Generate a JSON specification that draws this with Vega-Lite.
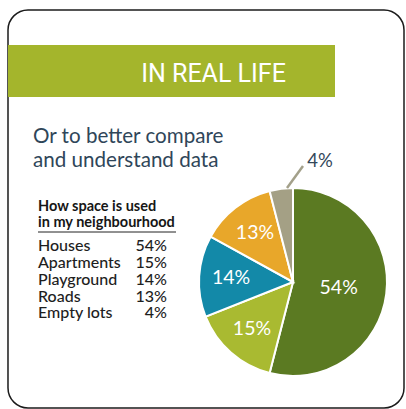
{
  "$schema": "https://vega.github.io/schema/vega-lite/v6.json",
  "width": 396,
  "height": 398,
  "autosize": {"type": "none"},
  "padding": {"left": 8, "top": 10, "right": 2, "bottom": 1},
  "background": "white",
  "config": {"view": {"stroke": "#1b1b1b", "strokeWidth": 1.5, "cornerRadius": 20, "fill": "white"}},
  "data": {"values": [
    {"name": "Houses", "value": 54, "label": "54%", "order": 1},
    {"name": "Apartments", "value": 15, "label": "15%", "order": 2},
    {"name": "Playground", "value": 14, "label": "14%", "order": 3},
    {"name": "Roads", "value": 13, "label": "13%", "order": 4},
    {"name": "Empty lots", "value": 4, "label": "4%", "order": 5}
  ]},
  "layer": [
    {
      "layer": [
        {
          "data": {"values": [{}]},
          "mark": {"type": "rect", "color": "#a4b52c"},
          "encoding": {
            "x": {"datum": 8, "type": "quantitative", "scale": {"domain": [8, 404], "nice": false, "zero": false}, "axis": null},
            "x2": {"datum": 335},
            "y": {"datum": 45, "type": "quantitative", "scale": {"domain": [10, 408], "nice": false, "zero": false, "reverse": true}, "axis": null},
            "y2": {"datum": 97}
          }
        },
        {
          "data": {"values": [{}]},
          "mark": {"type": "text", "text": "IN REAL LIFE", "font": "Roboto", "fontSize": 25, "fill": "white", "align": "center", "baseline": "alphabetic"},
          "encoding": {
            "x": {"datum": 213.5, "type": "quantitative", "scale": {"domain": [8, 404], "nice": false, "zero": false}, "axis": null},
            "y": {"datum": 82, "type": "quantitative", "scale": {"domain": [10, 408], "nice": false, "zero": false, "reverse": true}, "axis": null}
          }
        },
        {
          "data": {"values": [{}]},
          "mark": {"type": "text", "text": ["Or to better compare", "and understand data"], "font": "Lato", "fontSize": 20.6, "fill": "#2f4659", "align": "left", "baseline": "alphabetic", "lineHeight": 24},
          "encoding": {
            "x": {"datum": 33, "type": "quantitative", "scale": {"domain": [8, 404], "nice": false, "zero": false}, "axis": null},
            "y": {"datum": 143, "type": "quantitative", "scale": {"domain": [10, 408], "nice": false, "zero": false, "reverse": true}, "axis": null}
          }
        },
        {
          "data": {"values": [{}]},
          "mark": {"type": "text", "text": ["How space is used", "in my neighbourhood"], "font": "Lato", "fontSize": 14.5, "fontWeight": "bold", "fill": "#161616", "align": "left", "baseline": "alphabetic", "lineHeight": 16.5},
          "encoding": {
            "x": {"datum": 38, "type": "quantitative", "scale": {"domain": [8, 404], "nice": false, "zero": false}, "axis": null},
            "y": {"datum": 210.5, "type": "quantitative", "scale": {"domain": [10, 408], "nice": false, "zero": false, "reverse": true}, "axis": null}
          }
        },
        {
          "data": {"values": [{}]},
          "mark": {"type": "rule", "color": "#222222", "strokeWidth": 1},
          "encoding": {
            "x": {"datum": 38, "type": "quantitative", "scale": {"domain": [8, 404], "nice": false, "zero": false}, "axis": null},
            "x2": {"datum": 176},
            "y": {"datum": 232, "type": "quantitative", "scale": {"domain": [10, 408], "nice": false, "zero": false, "reverse": true}, "axis": null}
          }
        },
        {
          "mark": {"type": "arc", "outerRadius": 94, "stroke": "white", "strokeWidth": 2},
          "encoding": {
            "x": {"datum": 293, "type": "quantitative", "scale": {"domain": [8, 404], "nice": false, "zero": false}, "axis": null},
            "y": {"datum": 282, "type": "quantitative", "scale": {"domain": [10, 408], "nice": false, "zero": false, "reverse": true}, "axis": null},
            "theta": {"field": "value", "type": "quantitative", "stack": true},
            "order": {"field": "order", "type": "quantitative"},
            "color": {"field": "name", "type": "nominal", "legend": null,
              "scale": {"domain": ["Houses", "Apartments", "Playground", "Roads", "Empty lots"],
                        "range": ["#5b7a22", "#a9ba31", "#1389a8", "#e8a72a", "#a4a085"]}}
          }
        },
        {
          "mark": {"type": "text", "radius": 46, "font": "Lato", "fontSize": 19.5, "fill": "white", "align": "center", "baseline": "middle"},
          "encoding": {
            "x": {"datum": 293, "type": "quantitative", "scale": {"domain": [8, 404], "nice": false, "zero": false}, "axis": null},
            "y": {"datum": 282, "type": "quantitative", "scale": {"domain": [10, 408], "nice": false, "zero": false, "reverse": true}, "axis": null},
            "theta": {"field": "value", "type": "quantitative", "stack": true},
            "order": {"field": "order", "type": "quantitative"},
            "text": {"condition": {"test": "datum.name === 'Houses'", "field": "label"}, "value": ""}
          }
        },
        {
          "mark": {"type": "text", "radius": 62, "font": "Lato", "fontSize": 19.5, "fill": "white", "align": "center", "baseline": "middle"},
          "encoding": {
            "x": {"datum": 293, "type": "quantitative", "scale": {"domain": [8, 404], "nice": false, "zero": false}, "axis": null},
            "y": {"datum": 282, "type": "quantitative", "scale": {"domain": [10, 408], "nice": false, "zero": false, "reverse": true}, "axis": null},
            "theta": {"field": "value", "type": "quantitative", "stack": true},
            "order": {"field": "order", "type": "quantitative"},
            "text": {"condition": {"test": "datum.name !== 'Houses' && datum.name !== 'Empty lots'", "field": "label"}, "value": ""}
          }
        },
        {
          "transform": [{"filter": "datum.name === 'Empty lots'"}],
          "mark": {"type": "rule", "color": "#a3a08a", "strokeWidth": 2.5},
          "encoding": {
            "x": {"datum": 287, "type": "quantitative", "scale": {"domain": [8, 404], "nice": false, "zero": false}, "axis": null},
            "x2": {"datum": 303},
            "y": {"datum": 188, "type": "quantitative", "scale": {"domain": [10, 408], "nice": false, "zero": false, "reverse": true}, "axis": null},
            "y2": {"datum": 166}
          }
        },
        {
          "transform": [{"filter": "datum.name === 'Empty lots'"}],
          "mark": {"type": "text", "font": "Lato", "fontSize": 18.5, "fill": "#34475a", "align": "center", "baseline": "alphabetic"},
          "encoding": {
            "x": {"datum": 320, "type": "quantitative", "scale": {"domain": [8, 404], "nice": false, "zero": false}, "axis": null},
            "y": {"datum": 167, "type": "quantitative", "scale": {"domain": [10, 408], "nice": false, "zero": false, "reverse": true}, "axis": null},
            "text": {"field": "label"}
          }
        }
      ]
    },
    {
      "encoding": {
        "y": {"field": "order", "type": "quantitative",
              "scale": {"domain": [-13.3, 10.32], "nice": false, "zero": false, "reverse": true}, "axis": null}
      },
      "layer": [
        {
          "mark": {"type": "text", "font": "Lato", "fontSize": 16, "fontWeight": 500, "fill": "#1e1e1e", "align": "left", "baseline": "alphabetic"},
          "encoding": {
            "x": {"datum": 38, "type": "quantitative", "scale": {"domain": [8, 404], "nice": false, "zero": false}, "axis": null},
            "text": {"field": "name"}
          }
        },
        {
          "mark": {"type": "text", "font": "Lato", "fontSize": 16, "fontWeight": 500, "fill": "#1e1e1e", "align": "right", "baseline": "alphabetic"},
          "encoding": {
            "x": {"datum": 167, "type": "quantitative", "scale": {"domain": [8, 404], "nice": false, "zero": false}, "axis": null},
            "text": {"field": "label"}
          }
        }
      ]
    }
  ],
  "resolve": {"scale": {"y": "independent"}}
}
